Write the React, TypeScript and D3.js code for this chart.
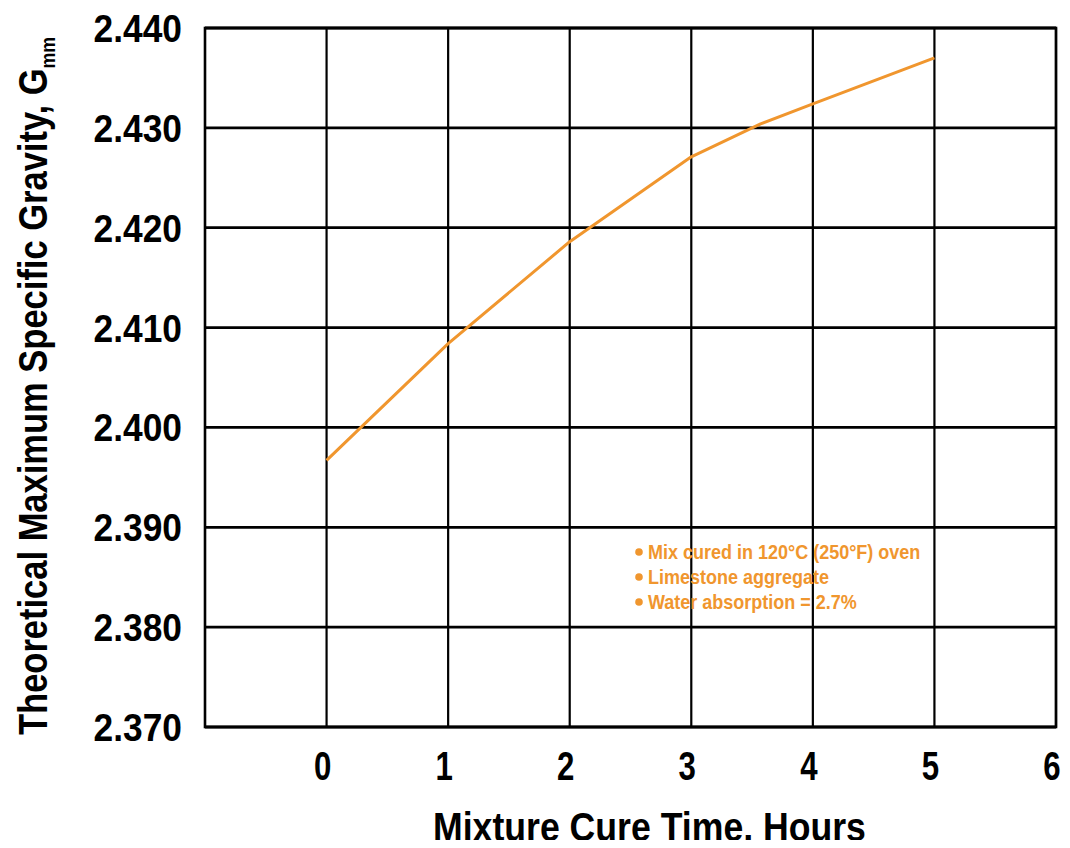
import React, { useRef, useEffect } from "react";
import * as d3 from "d3";

// values
const cureHours = [0, 1, 2, 3, 3.57, 4, 5];
const gmmValues = [2.3967, 2.4084, 2.4186, 2.4271, 2.4304, 2.4324, 2.437];
const xTicks = [0, 1, 2, 3, 4, 5, 6];
const yTicks = [2.37, 2.38, 2.39, 2.4, 2.41, 2.42, 2.43, 2.44];
const notes = [
  "Mix cured in 120\u00b0C (250\u00b0F) oven",
  "Limestone aggregate",
  "Water absorption = 2.7%",
];

const FONT = "'Liberation Sans', Arial, Helvetica, sans-serif";
const ORANGE = "#f0962e";

function GravityChart() {
  const svgRef = useRef<SVGSVGElement>(null);

  useEffect(() => {
    const svg = d3.select(svgRef.current);
    svg.selectAll("*").remove();

    const margin = { top: 28, right: 14, bottom: 121, left: 205 };
    const width = 1070 - margin.left - margin.right;
    const height = 848 - margin.top - margin.bottom;

    const x = d3.scaleLinear().domain([-1, 6]).range([0, width]);
    const y = d3.scaleLinear().domain([2.37, 2.44]).range([height, 0]);

    const g = svg
      .append("g")
      .attr("transform", `translate(${margin.left},${margin.top})`);

    // grid
    g.selectAll(".vgrid")
      .data(xTicks)
      .enter()
      .append("line")
      .attr("x1", (d) => x(d))
      .attr("x2", (d) => x(d))
      .attr("y1", 0)
      .attr("y2", height)
      .style("stroke", "#000")
      .style("stroke-width", 2.2);

    g.selectAll(".hgrid")
      .data(yTicks)
      .enter()
      .append("line")
      .attr("x1", 0)
      .attr("x2", width)
      .attr("y1", (d) => y(d))
      .attr("y2", (d) => y(d))
      .style("stroke", "#000")
      .style("stroke-width", 2.8);

    // frame
    g.append("rect")
      .attr("width", width)
      .attr("height", height)
      .style("fill", "none")
      .style("stroke", "#000")
      .style("stroke-width", 2.6);

    // y tick labels (condensed by a horizontal squeeze)
    g.selectAll(".ylab")
      .data(yTicks)
      .enter()
      .append("text")
      .attr("transform", (d) => `translate(-23,${y(d) + 14}) scale(0.93,1)`)
      .attr("text-anchor", "end")
      .style("font-family", FONT)
      .style("font-weight", "bold")
      .style("font-size", "38px")
      .text((d) => d3.format(".3f")(d));

    // x tick labels
    g.selectAll(".xlab")
      .data(xTicks)
      .enter()
      .append("text")
      .attr("transform", (d) => `translate(${x(d) - 4},${height + 53}) scale(0.78,1)`)
      .attr("text-anchor", "middle")
      .style("font-family", FONT)
      .style("font-weight", "bold")
      .style("font-size", "40px")
      .text((d) => d);

    // x title, squeezed to the reference's width
    const xt = svg
      .append("text")
      .style("font-family", FONT)
      .style("font-weight", "bold")
      .style("font-size", "40px")
      .text("Mixture Cure Time, Hours");
    const xLen = (xt.node() as SVGTextElement).getComputedTextLength();
    xt.attr("transform", `translate(433,841) scale(${433 / xLen},1)`);

    // y title, squeezed the same way
    const yt = svg
      .append("text")
      .style("font-family", FONT)
      .style("font-weight", "bold")
      .style("font-size", "41px");
    const ytMain = yt.append("tspan").text("Theoretical Maximum Specific Gravity, G");
    yt.append("tspan")
      .attr("dy", 8)
      .style("font-size", "21px")
      .text("mm");
    const yLen = (ytMain.node() as SVGTextContentElement).getComputedTextLength();
    yt.attr("transform", `translate(47,735) rotate(-90) scale(${667 / yLen},1)`);

    // data line
    const line = d3
      .line<number>()
      .x((_, i) => x(cureHours[i]))
      .y((d) => y(d));

    g.append("path")
      .datum(gmmValues)
      .attr("d", line)
      .style("fill", "none")
      .style("stroke", ORANGE)
      .style("stroke-width", 3)
      .style("stroke-linejoin", "round");

    // notes
    const note = g
      .selectAll(".note")
      .data(notes)
      .enter()
      .append("g")
      .attr("transform", (_, i) => `translate(430,${531 + i * 25})`);
    note
      .append("circle")
      .attr("cx", 4)
      .attr("cy", -7)
      .attr("r", 3.8)
      .style("fill", ORANGE);
    note
      .append("text")
      .attr("transform", "translate(13,0) scale(0.9,1)")
      .style("font-family", FONT)
      .style("font-weight", "bold")
      .style("font-size", "20px")
      .style("fill", ORANGE)
      .text((d) => d);
  }, []);

  return <svg ref={svgRef} width={1070} height={848} style={{ display: "block" }} />;
}

export default function App() {
  return (
    <div style={{ margin: -8 }}>
      <GravityChart />
    </div>
  );
}
